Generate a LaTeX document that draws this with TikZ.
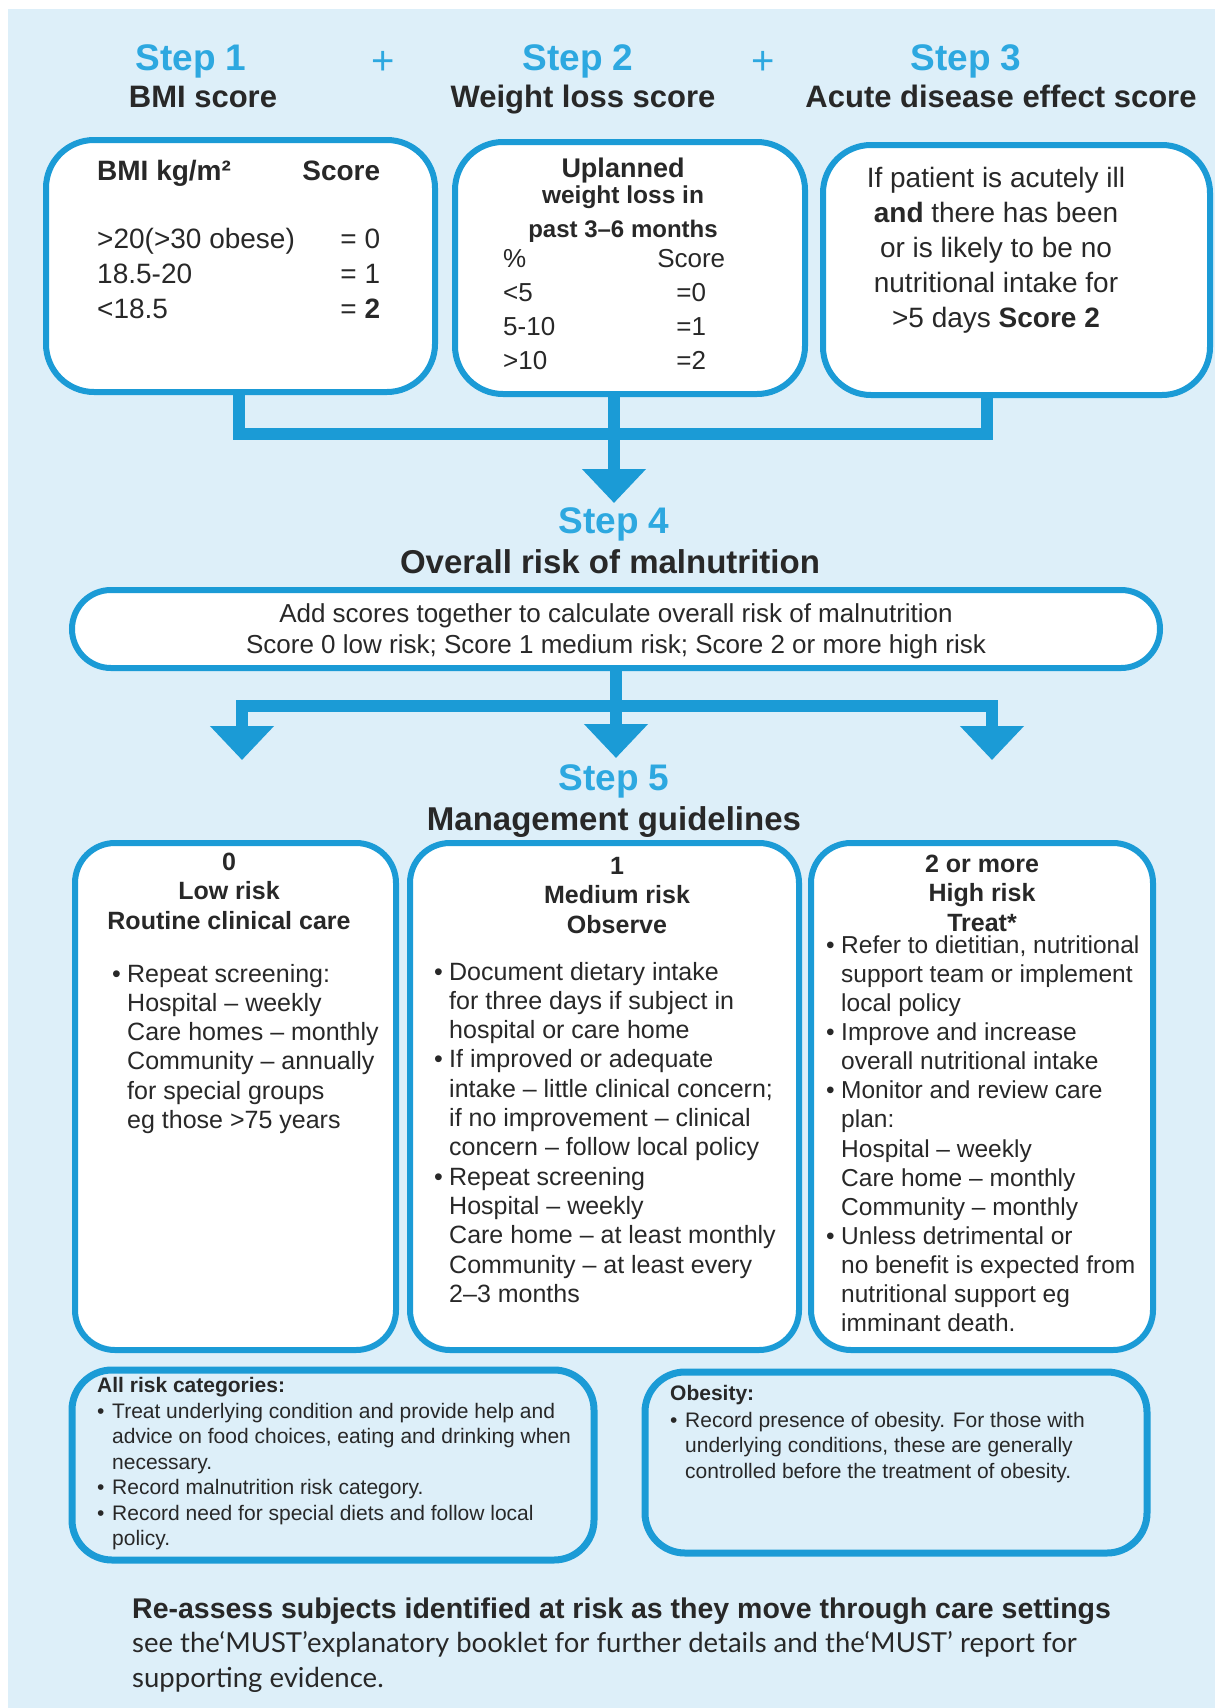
\documentclass[tikz,border=0pt]{standalone}
\usepackage{fontspec}
\setmainfont{Liberation Sans}
\newfontfamily\notefont{Lato}
\usetikzlibrary{arrows.meta}

\definecolor{bgblue}{RGB}{221,239,249}
\definecolor{lineblue}{RGB}{27,155,214}
\definecolor{stepblue}{RGB}{45,168,224}
\definecolor{txtgrey}{RGB}{40,40,40}

\newcommand{\fs}[2]{\fontsize{#1}{#2}\selectfont}
\newcommand{\bitem}{\makebox[15pt][l]{\textbullet}}
\newcommand{\bcont}{\hspace*{15pt}}
\newcommand{\leftlines}[1]{\begin{tabular}[t]{@{}l@{}}#1\end{tabular}}
\newcommand{\midlines}[1]{\begin{tabular}[t]{@{}c@{}}#1\end{tabular}}

\begin{document}
\begin{tikzpicture}[x=1pt, y=-1pt,
    steptitle/.style={font=\fs{37}{40}\bfseries, text=stepblue, inner sep=0pt, anchor=base},
    plussign/.style={font=\fs{40}{40}, text=stepblue, inner sep=0pt, anchor=base},
    subtitle/.style={font=\fs{31}{36}\bfseries, text=txtgrey, inner sep=0pt, anchor=base},
    scorebox/.style={draw=lineblue, line width=6pt, fill=white, rounded corners=48pt, inner sep=0pt},
    guidebox/.style={scorebox, rounded corners=40pt},
    notebox/.style={draw=lineblue, line width=7pt, fill=bgblue, rounded corners=40pt, inner sep=0pt},
    bodytext/.style={font=\fs{25}{29.3}, text=txtgrey, inner sep=0pt, anchor=base west},
    headtext/.style={font=\fs{25}{29.5}\bfseries, text=txtgrey, inner sep=0pt, anchor=base},
    flow/.style={draw=lineblue, line width=12pt},
    flowarrow/.style={flow, -{Triangle[width=62pt, length=34pt]}}
]
    \useasboundingbox (0,0) rectangle (1215,1708);
    \fill[white] (0,0) rectangle (1215,1708);
    \fill[bgblue] (8,9) rectangle (1215,1708);

    \node[steptitle] (step1) at (191,70) {Step 1};
    \node[plussign] (plus1) at (383,74) {+};
    \node[steptitle] (step2) at (578,70) {Step 2};
    \node[plussign] (plus2) at (763,74) {+};
    \node[steptitle] (step3) at (966,70) {Step 3};
    \node[subtitle] (bmititle) at (203,107) {BMI score};
    \node[subtitle] (losstitle) at (583,107) {Weight loss score};
    \node[subtitle] (acutetitle) at (1001,107) {Acute disease effect score};

    \node[scorebox, minimum width=389pt, minimum height=252pt] (bmi) at (240.5,266) {};
    \node[scorebox, minimum width=350pt, minimum height=252pt] (loss) at (630,268) {};
    \node[scorebox, minimum width=387pt, minimum height=250pt] (acute) at (1016.5,270) {};

    \node[bodytext, font=\fs{28}{35}] (bmitab) at (97,180) {%
        \begin{tabular*}{283pt}[t]{@{}l@{\extracolsep{\fill}}r@{}}
            \textbf{BMI kg/m²} & \textbf{Score}\\[33pt]
            >20(>30 obese) & = 0\\
            18.5-20 & = 1\\
            <18.5 & = \textbf{2}
        \end{tabular*}};
    \node[headtext, font=\fs{27}{29}\bfseries] (losshead) at (623,177)
        {\midlines{Uplanned\\[-3pt] {\fs{24.5}{29}\bfseries weight loss in}\\[5pt] {\fs{24}{29}\bfseries past 3–6 months}}};
    \node[bodytext, font=\fs{26}{34}] (losstab) at (503,267) {%
        \begin{tabular*}{222pt}[t]{@{}l@{\extracolsep{\fill}}c@{}}
            \% & Score\\
            <5 & =0\\
            5-10 & =1\\
            >10 & =2
        \end{tabular*}};
    \node[headtext, font=\fs{28}{35}, text=txtgrey] (acutetxt) at (996,187)
        {\midlines{If patient is acutely ill\\ \textbf{and} there has been\\ or is likely to be no\\
        nutritional intake for\\ >5 days \textbf{Score 2}}};

    \coordinate (stem1) at (239,434);
    \coordinate (stem3) at (987,434);
    \coordinate (join1) at (614,434);
    \coordinate (tip4) at (614,503);
    \draw[flow] (bmi.south -| stem1) -- (stem1) -- (stem3) -- (acute.south -| stem3);
    \draw[flowarrow] (loss.south -| join1) -- (tip4);

    \node[steptitle] (step4) at (614,533) {Step 4};
    \node[subtitle, font=\fs{33}{36}\bfseries] (risktitle) at (610,573) {Overall risk of malnutrition};
    \node[scorebox, rounded corners=39pt, minimum width=1088pt, minimum height=78pt] (risk) at (616,629) {};
    \node[headtext, font=\fs{26}{31}] (risktxt) at (616,622)
        {\midlines{Add scores together to calculate overall risk of malnutrition\\
        Score 0 low risk; Score 1 medium risk; Score 2 or more high risk}};

    \coordinate (split) at (616,706);
    \coordinate (tipl) at (242,760);
    \coordinate (tipm) at (616,758);
    \coordinate (tipr) at (992,760);
    \draw[flow, {Triangle[width=62pt, length=34pt]}-{Triangle[width=62pt, length=34pt]}]
        (tipl) -- (tipl |- split) -- (tipr |- split) -- (tipr);
    \draw[flowarrow] (risk.south) -- (tipm);

    \node[steptitle] (step5) at (614,790) {Step 5};
    \node[subtitle, font=\fs{33}{36}\bfseries] (guidetitle) at (614,830) {Management guidelines};

    \node[guidebox, minimum width=321pt, minimum height=507pt] (low) at (235.5,1096.5) {};
    \node[guidebox, minimum width=389pt, minimum height=507pt] (medium) at (604.5,1096.5) {};
    \node[guidebox, minimum width=342pt, minimum height=507pt] (high) at (982,1096.5) {};

    \node[headtext] (lowhead) at (229,870) {\midlines{0\\ Low risk\\ Routine clinical care}};
    \node[bodytext] (lowlist) at (112,982) {\leftlines{%
        \bitem Repeat screening:\\
        \bcont Hospital – weekly\\
        \bcont Care homes – monthly\\
        \bcont Community – annually\\
        \bcont for special groups\\
        \bcont eg those >75 years}};

    \node[headtext] (medhead) at (617,874) {\midlines{1\\ Medium risk\\ Observe}};
    \node[bodytext] (medlist) at (434,980) {\leftlines{%
        \bitem Document dietary intake\\
        \bcont for three days if subject in\\
        \bcont hospital or care home\\
        \bitem If improved or adequate\\
        \bcont intake – little clinical concern;\\
        \bcont if no improvement – clinical\\
        \bcont concern – follow local policy\\
        \bitem Repeat screening\\
        \bcont Hospital – weekly\\
        \bcont Care home – at least monthly\\
        \bcont Community – at least every\\
        \bcont 2–3 months}};

    \node[headtext] (highhead) at (982,872) {\midlines{2 or more\\ High risk\\ Treat*}};
    \node[bodytext, font=\fs{24.5}{29.15}] (highlist) at (826,953) {\leftlines{%
        \bitem Refer to dietitian, nutritional\\
        \bcont support team or implement\\
        \bcont local policy\\
        \bitem Improve and increase\\
        \bcont overall nutritional intake\\
        \bitem Monitor and review care\\
        \bcont plan:\\
        \bcont Hospital – weekly\\
        \bcont Care home – monthly\\
        \bcont Community – monthly\\
        \bitem Unless detrimental or\\
        \bcont no benefit is expected from\\
        \bcont nutritional support eg\\
        \bcont imminant death.}};

    \node[notebox, minimum width=522pt, minimum height=190pt] (allrisk) at (333,1465) {};
    \node[notebox, minimum width=502pt, minimum height=181pt] (obesity) at (896,1462.5) {};

    \node[bodytext, font=\fs{21}{25.5}\bfseries] (allhead) at (97,1392) {All risk categories:};
    \node[bodytext, font=\fs{21}{25.5}] (alllist) at (97,1418) {\leftlines{%
        \bitem Treat underlying condition and provide help and\\
        \bcont advice on food choices, eating and drinking when\\
        \bcont necessary.\\
        \bitem Record malnutrition risk category.\\
        \bitem Record need for special diets and follow local\\
        \bcont policy.}};
    \node[bodytext, font=\fs{21}{25.5}\bfseries] (obhead) at (670,1400) {Obesity:};
    \node[bodytext, font=\fs{21}{25.5}] (oblist) at (670,1427) {\leftlines{%
        \bitem Record presence of obesity. For those with\\
        \bcont underlying conditions, these are generally\\
        \bcont controlled before the treatment of obesity.}};

    \node[bodytext, font=\fs{28.5}{34}\bfseries] (reassess) at (132,1618)
        {Re-assess subjects identified at risk as they move through care settings};
    \node[bodytext, font=\notefont\fs{27.5}{35}] (seenote) at (132,1652)
        {\leftlines{see the‘MUST’explanatory booklet for further details and the‘MUST’ report for\\
        supporting evidence.}};
\end{tikzpicture}
\end{document}
